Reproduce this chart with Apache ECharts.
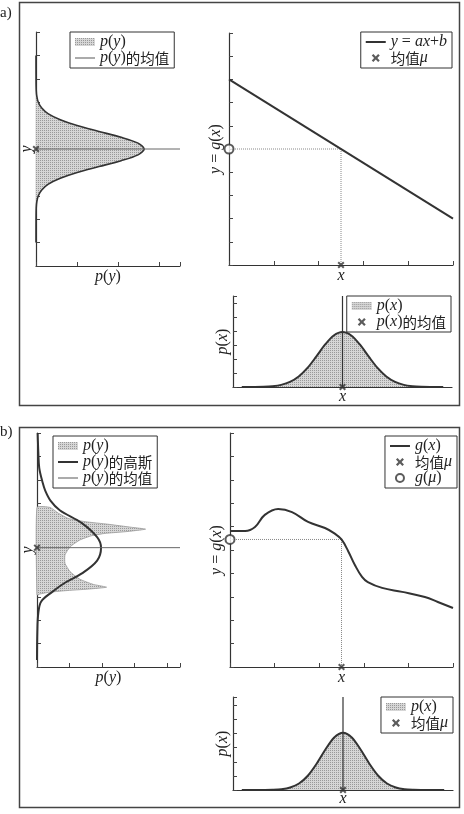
<!DOCTYPE html>
<html><head><meta charset="utf-8">
<script src="https://cdn.jsdelivr.net/npm/echarts@6/dist/echarts.min.js"></script>
<style>html,body{margin:0;padding:0;background:#fff}#c{width:464px;height:814px}</style>
</head><body><div id="c"></div>
<script>
// ===== Data =====
// Panel a) linear transform y = ax + b
const aLineX = [0, 5];
const aLineY = [8, 2];
const aMuX = 2.5;          // mean of x
const aGMu = 5;            // g(mu)
const aPyMean = 5;         // mean of p(y)
// p(y) of panel a (y positions, density values)
const aPyY = [1, 2, 2.5, 2.75, 3, 3.25, 3.5, 3.75, 4, 4.25, 4.5, 4.75, 5, 5.25, 5.5, 5.75, 6, 6.25, 6.5, 6.75, 7, 7.25, 7.5, 8, 9];
const aPyP = [0, 0.001, 0.006, 0.02, 0.056, 0.14, 0.3, 0.59, 1.0, 1.53, 2.07, 2.48, 2.63, 2.48, 2.07, 1.53, 1.0, 0.59, 0.3, 0.14, 0.056, 0.02, 0.006, 0.001, 0];
// p(x) (both panels share the x positions)
const pxX = [0.2, 0.5, 0.7, 0.9, 1.1, 1.3, 1.5, 1.7, 1.9, 2.1, 2.3, 2.5, 2.7, 2.9, 3.1, 3.3, 3.5, 3.7, 3.9, 4.1, 4.3, 4.5, 4.8];
const aPxP = [0.001, 0.005, 0.018, 0.057, 0.15, 0.36, 0.75, 1.36, 2.17, 3.02, 3.68, 3.93, 3.68, 3.02, 2.17, 1.36, 0.75, 0.36, 0.15, 0.057, 0.018, 0.005, 0.001];

// Panel b) nonlinear transform y = g(x)
const bGX = [0, 0.34, 0.56, 0.78, 1.08, 1.39, 1.75, 2.13, 2.35, 2.5, 2.65, 2.8, 2.96, 3.09, 3.41, 3.86, 4.37, 4.66, 5.0];
const bGY = [5.81, 5.81, 5.98, 6.5, 6.75, 6.62, 6.2, 5.94, 5.7, 5.45, 4.95, 4.36, 3.85, 3.63, 3.38, 3.21, 2.99, 2.78, 2.52];
const bMuX = 2.5;
const bGMu = 5.45;
const bPyMean = 5.1;
// p(y) of panel b: outline of the shaded region (density, y)
const bPyFillP = [0, 0.4, 0.66, 0.96, 1.48, 2.19, 2.91, 3.34, 2.71, 2.09, 1.68, 1.32, 1.02, 0.86, 0.86, 1.02, 1.32, 1.73, 2.14, 1.58, 0.86, 0.35, 0.09, 0];
const bPyFillY = [6.82, 6.82, 6.57, 6.35, 6.21, 6.1, 5.97, 5.89, 5.78, 5.71, 5.61, 5.43, 5.14, 4.79, 4.43, 4.07, 3.75, 3.53, 3.41, 3.33, 3.26, 3.19, 3.12, 3.08];
// Gaussian fit of p(y)
const bGaussY = [0.3, 1.5, 2.3, 2.8, 3.2, 3.6, 4.0, 4.55, 5.1, 5.55, 6.15, 6.7, 7.1, 7.55, 7.9, 8.5, 9.2, 10];
const bGaussP = [0, 0.01, 0.04, 0.13, 0.46, 0.86, 1.38, 1.85, 1.97, 1.85, 1.38, 0.7, 0.42, 0.25, 0.17, 0.07, 0.04, 0.02];
const bPxP = [0.001, 0.001, 0.004, 0.016, 0.057, 0.18, 0.46, 1.01, 1.86, 2.87, 3.73, 4.07, 3.73, 2.87, 1.86, 1.01, 0.46, 0.18, 0.057, 0.016, 0.004, 0.001, 0.001];

// Legend labels
const legendLabels = {
  a_py: '{i|p}({i|y})',
  a_pymean: '{i|p}({i|y}){c|的均值}',
  a_g: '{i|y} = {i|ax}+{i|b}',
  a_mu: '{c|均值}{i|μ}',
  a_px: '{i|p}({i|x})',
  a_pxmean: '{i|p}({i|x}){c|的均值}',
  b_py: '{i|p}({i|y})',
  b_gauss: '{i|p}({i|y}){c|的高斯}',
  b_pymean: '{i|p}({i|y}){c|的均值}',
  b_g: '{i|g}({i|x})',
  b_mu: '{c|均值}{i|μ}',
  b_gmu: '{i|g}({i|μ})',
  b_px: '{i|p}({i|x})',
  b_pxmu: '{c|均值}{i|μ}'
};

// ===== Styling =====
const serif = 'Liberation Serif';
const cjk = 'Noto Sans CJK SC';
const ink = '#333';
const flatFill = '#c9c9c9';
// stippled (halftone-like) fill: one dark dot per 2x2 cell
function makeStipple() {
  const cv = document.createElement('canvas');
  cv.width = 2; cv.height = 2;
  const ctx = cv.getContext('2d');
  ctx.fillStyle = '#d6d6d6'; ctx.fillRect(0, 0, 2, 2);
  ctx.fillStyle = '#999999'; ctx.fillRect(0, 0, 1, 1);
  return {image: cv, repeat: 'repeat'};
}
const fillColor = makeStipple();
const rich = {
  i: {fontFamily: serif, fontStyle: 'italic', fontSize: 16, color: '#222', lineHeight: 16},
  c: {fontFamily: cjk, fontSize: 14.5, color: '#222', lineHeight: 16}
};
const crossPath = 'path://M0,2 L2,0 L5,3 L8,0 L10,2 L7,5 L10,8 L8,10 L5,7 L2,10 L0,8 L3,5 Z';
const thickLine = 'path://M0,0 L20,0 L20,2 L0,2 Z';
const thinLine = 'path://M0,0 L20,0 L20,1.1 L0,1.1 Z';
const zip = (xs, ys) => xs.map((x, i) => [x, ys[i]]);

function axis(gi, min, max, extra) {
  return Object.assign({
    type: 'value', gridIndex: gi, min: min, max: max, interval: 1,
    axisLine: {show: true, onZero: false, lineStyle: {color: ink, width: 1.2}},
    axisTick: {show: true, inside: true, length: 4, lineStyle: {color: '#444', width: 1}},
    axisLabel: {show: false},
    splitLine: {show: false},
    nameLocation: 'middle',
    nameTextStyle: {fontFamily: serif, fontSize: 16, color: '#222', rich: rich}
  }, extra || {});
}

function polyRender(xs, ys, smooth, stroke) {
  return function (params, api) {
    if (params.dataIndex !== 0) return null;
    const pts = xs.map((x, i) => api.coord([x, ys[i]]));
    return {
      type: 'polygon',
      shape: {points: pts, smooth: smooth},
      style: {fill: fillColor, stroke: stroke || null, lineWidth: stroke ? 0.8 : 0}
    };
  };
}

function legendBox(pos, data) {
  return Object.assign({
    orient: 'vertical', itemGap: 0, itemWidth: 20, itemHeight: 8,
    padding: [2, 5, 2, 5], borderColor: ink, borderWidth: 1, backgroundColor: '#fff',
    selectedMode: false, data: data,
    formatter: n => legendLabels[n],
    textStyle: {fontFamily: serif, fontSize: 16, color: '#222', lineHeight: 16, rich: rich}
  }, pos);
}
const patch = n => ({name: n, icon: 'rect', itemStyle: {color: fillColor, borderWidth: 0}});
const lineIcon = (n, thin) => ({name: n, icon: thin ? thinLine : thickLine, itemStyle: {color: thin ? '#666' : ink, borderWidth: 0}});

const line = (name, xi, data, o) => Object.assign({
  type: 'line', name: name, xAxisIndex: xi, yAxisIndex: xi, data: data,
  symbol: 'none', showSymbol: false, clip: false, lineStyle: {color: ink, width: 1.8}, itemStyle: {color: ink}, z: 3
}, o || {});
const cross = (name, xi, pt) => ({
  type: 'scatter', name: name, xAxisIndex: xi, yAxisIndex: xi, data: [pt],
  symbol: crossPath, symbolSize: 7, clip: false, itemStyle: {color: ink}, z: 6
});
const circle = (name, xi, pt) => ({
  type: 'scatter', name: name, xAxisIndex: xi, yAxisIndex: xi, data: [pt],
  symbol: 'emptyCircle', symbolSize: 9, clip: false,
  itemStyle: {color: ink, borderColor: ink, borderWidth: 1.6}, z: 6
});
const guide = (xi, data) => line('guide' + xi, xi, data, {lineStyle: {color: '#888', width: 1, type: 'dotted'}, z: 2});

const option = {
  animation: false,
  backgroundColor: '#fff',
  grid: [
    {left: 36, top: 32, width: 144, height: 234, outerBoundsMode: 'none'},
    {left: 229, top: 33, width: 224, height: 232, outerBoundsMode: 'none'},
    {left: 233, top: 296, width: 219, height: 91, outerBoundsMode: 'none'},
    {left: 37, top: 433, width: 143, height: 234, outerBoundsMode: 'none'},
    {left: 230, top: 433, width: 223, height: 234, outerBoundsMode: 'none'},
    {left: 233, top: 697, width: 220, height: 93, outerBoundsMode: 'none'}
  ],
  xAxis: [
    axis(0, 0, 3.5, {name: '{i|p}({i|y})', nameGap: 3}),
    axis(1, 0, 5, {name: '{i|x}', nameGap: 3}),
    axis(2, 0, 5, {name: '{i|x}', nameGap: 2, axisTick: {show: false}}),
    axis(3, 0, 4.4, {name: '{i|p}({i|y})', nameGap: 3}),
    axis(4, 0, 5, {name: '{i|x}', nameGap: 3}),
    axis(5, 0, 5, {name: '{i|x}', nameGap: 1, axisTick: {show: false}})
  ],
  yAxis: [
    axis(0, 0, 10, {name: '{i|y}', nameGap: 1}),
    axis(1, 0, 10, {name: '{i|y} = {i|g}({i|x})', nameGap: 5}),
    axis(2, 0, 6.5, {name: '{i|p}({i|x})', nameGap: 2}),
    axis(3, 0, 10, {name: '{i|y}', nameGap: 1}),
    axis(4, 0, 10, {name: '{i|y} = {i|g}({i|x})', nameGap: 5}),
    axis(5, 0, 6.6, {name: '{i|p}({i|x})', nameGap: 2})
  ],
  legend: [
    legendBox({left: 70, top: 32}, [patch('a_py'), lineIcon('a_pymean', true)]),
    legendBox({right: 12, top: 32}, [lineIcon('a_g'), 'a_mu']),
    legendBox({right: 13, top: 296}, [patch('a_px'), 'a_pxmean']),
    legendBox({left: 53, top: 436}, [patch('b_py'), lineIcon('b_gauss'), lineIcon('b_pymean', true)]),
    legendBox({right: 7, top: 436}, [lineIcon('b_g'), 'b_mu', 'b_gmu']),
    legendBox({right: 11, top: 697}, [patch('b_px'), 'b_pxmu'])
  ],
  series: [
    // ---- a) left: p(y)
    {type: 'custom', name: 'a_py', xAxisIndex: 0, yAxisIndex: 0, data: zip(aPyP, aPyY),
     renderItem: polyRender(aPyP, aPyY, 0.3), itemStyle: {color: flatFill}, z: 1},
    line('a_pyline', 0, zip(aPyP, aPyY), {smooth: 0.3, lineStyle: {color: ink, width: 1.6}}),
    line('a_pymean', 0, [[0, aPyMean], [3.5, aPyMean]], {lineStyle: {color: '#666', width: 1}, z: 4}),
    cross('a_pymu', 0, [0, aPyMean]),
    // ---- a) top right: y = ax + b
    guide(1, [[0, aGMu], [aMuX, aGMu], [aMuX, 0]]),
    line('a_g', 1, zip(aLineX, aLineY), {lineStyle: {color: ink, width: 2}}),
    cross('a_mu', 1, [aMuX, 0]),
    circle('a_gmu', 1, [0, aGMu]),
    // ---- a) bottom: p(x)
    line('a_px', 2, zip(pxX, aPxP), {smooth: 0.3, areaStyle: {color: fillColor, opacity: 1}, lineStyle: {color: ink, width: 2}}),
    line('a_pxv', 2, [[aMuX, 0], [aMuX, 6.5]], {lineStyle: {color: ink, width: 1.2}, z: 4}),
    cross('a_pxmean', 2, [aMuX, 0]),
    // ---- b) left: p(y)
    {type: 'custom', name: 'b_py', xAxisIndex: 3, yAxisIndex: 3, data: zip(bPyFillP, bPyFillY),
     renderItem: polyRender(bPyFillP, bPyFillY, 0.15, '#999'), itemStyle: {color: flatFill}, z: 1},
    line('b_gauss', 3, zip(bGaussP, bGaussY), {smooth: 0.35, lineStyle: {color: ink, width: 2}}),
    line('b_pymean', 3, [[0, bPyMean], [4.4, bPyMean]], {lineStyle: {color: '#666', width: 1}, z: 4}),
    cross('b_pymu', 3, [0, bPyMean]),
    // ---- b) top right: g(x)
    guide(4, [[0, bGMu], [bMuX, bGMu], [bMuX, 0]]),
    line('b_g', 4, zip(bGX, bGY), {smooth: 0.4, lineStyle: {color: ink, width: 2}}),
    cross('b_mu', 4, [bMuX, 0]),
    circle('b_gmu', 4, [0, bGMu]),
    // ---- b) bottom: p(x)
    line('b_px', 5, zip(pxX, bPxP), {smooth: 0.3, areaStyle: {color: fillColor, opacity: 1}, lineStyle: {color: ink, width: 2}}),
    line('b_pxv', 5, [[bMuX, 0], [bMuX, 6.6]], {lineStyle: {color: ink, width: 1.2}, z: 4}),
    cross('b_pxmu', 5, [bMuX, 0])
  ],
  graphic: [
    {type: 'rect', shape: {x: 19.5, y: 2.5, width: 440, height: 403}, style: {fill: 'none', stroke: '#444', lineWidth: 1.5}, silent: true},
    {type: 'rect', shape: {x: 19.5, y: 427.5, width: 440, height: 380}, style: {fill: 'none', stroke: '#444', lineWidth: 1.5}, silent: true},
    {type: 'text', left: 0, top: 6, style: {text: 'a)', font: '15px "Liberation Serif"', fill: '#222'}},
    {type: 'text', left: 0, top: 425, style: {text: 'b)', font: '15px "Liberation Serif"', fill: '#222'}}
  ]
};

const chart = echarts.init(document.getElementById('c'), null, {renderer: 'canvas'});
chart.setOption(option);
</script>
</body></html>
